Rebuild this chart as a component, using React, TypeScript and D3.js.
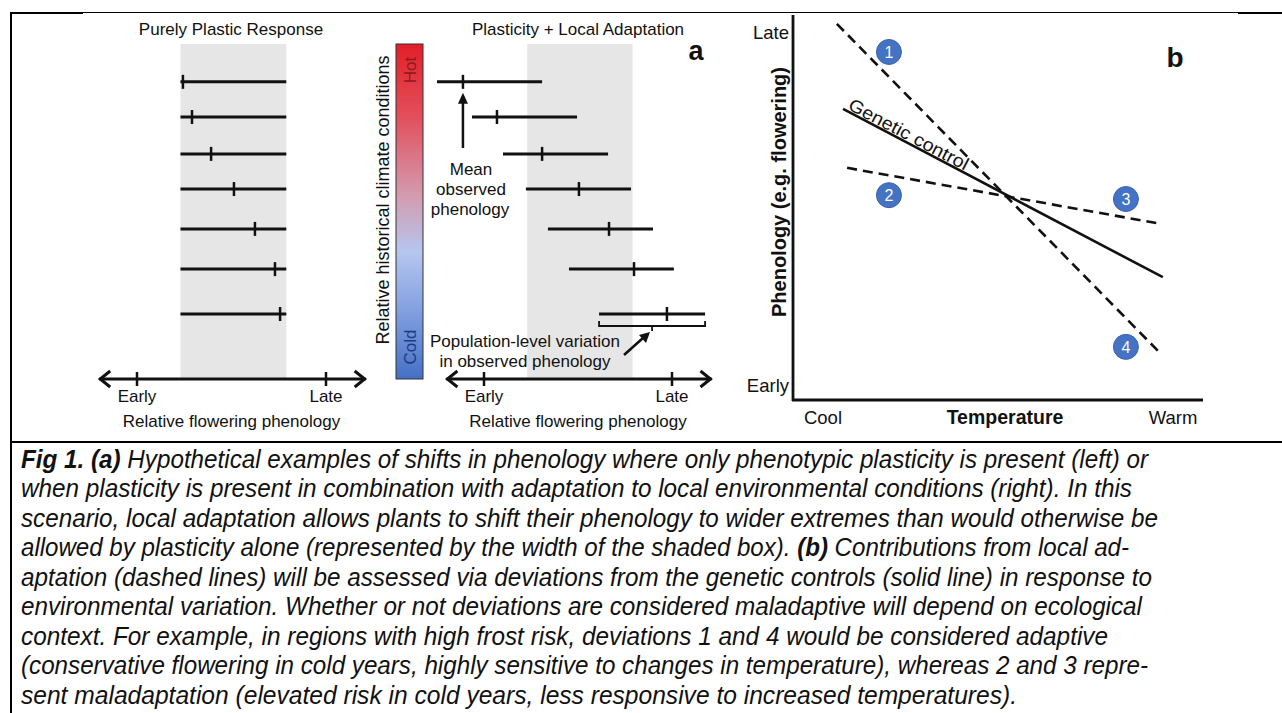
import React from 'react';
import * as d3 from 'd3';

// relative climate of each population row (1 = hot, 0 = cold)
const rowClimate = [0.887, 0.782, 0.672, 0.567, 0.448, 0.328, 0.194];
// shaded box = range allowed by plasticity (0 = early, 1 = late)
const plasticRange = [0.23, 0.79];
const plasticMeans = [0.243, 0.291, 0.392, 0.513, 0.624, 0.73, 0.757];
const localStarts = [-0.25, -0.064, 0.101, 0.223, 0.34, 0.452, 0.612];
const localEnds = [0.309, 0.495, 0.66, 0.782, 0.899, 1.01, 1.176];
const localMeans = [-0.112, 0.069, 0.309, 0.505, 0.665, 0.798, 0.973];
const axisExtent = [-0.2, 1.21];

// panel b: [temperature, phenology] endpoints
const geneticLine = [[0.122, 0.756], [0.902, 0.319]];
const deviationLines = [
  [[0.107, 0.977], [0.9, 0.117]],
  [[0.132, 0.603], [0.9, 0.457]],
];
const markerLabels = ['1', '2', '3', '4'];
const markerTemp = [0.234, 0.234, 0.812, 0.812];
const markerPheno = [0.904, 0.532, 0.522, 0.138];

const captionLines = [
  [['Fig 1. (a)', true], [' Hypothetical examples of shifts in phenology where only phenotypic plasticity is present (left) or', false]],
  [['when plasticity is present in combination with adaptation to local environmental conditions (right). In this', false]],
  [['scenario, local adaptation allows plants to shift their phenology to wider extremes than would otherwise be', false]],
  [['allowed by plasticity alone (represented by the width of the shaded box). ', false], ['(b)', true], [' Contributions from local ad-', false]],
  [['aptation (dashed lines) will be assessed via deviations from the genetic controls (solid line) in response to', false]],
  [['environmental variation. Whether or not deviations are considered maladaptive will depend on ecological', false]],
  [['context. For example, in regions with high frost risk, deviations 1 and 4 would be considered adaptive', false]],
  [['(conservative flowering in cold years, highly sensitive to changes in temperature), whereas 2 and 3 repre-', false]],
  [['sent maladaptation (elevated risk in cold years, less responsive to increased temperatures).', false]],
];
const captionEnds = [1148, 1132, 1158, 1129, 1152, 1142, 1108, 1148, 1017];

const FONT = '"Liberation Sans", Arial, sans-serif';
const INK = '#111';
const CAP_SX = 0.88; // caption font is a narrow face; squeeze horizontally

function PhenoAxis({ x, y }) {
  const x0 = x(axisExtent[0]);
  const x1 = x(axisExtent[1]);
  return (
    <g stroke={INK} strokeWidth={3} fill="none">
      <line x1={x0} x2={x1} y1={y} y2={y} />
      <path d={`M${x0 + 11},${y - 8}L${x0 + 1},${y}L${x0 + 11},${y + 8}`} />
      <path d={`M${x1 - 11},${y - 8}L${x1 - 1},${y}L${x1 - 11},${y + 8}`} />
      <line x1={x(0)} x2={x(0)} y1={y - 7} y2={y + 7} strokeWidth={2.5} />
      <line x1={x(1)} x2={x(1)} y1={y - 7} y2={y + 7} strokeWidth={2.5} />
      <g stroke="none" fill={INK} fontSize={17} textAnchor="middle">
        <text x={x(0)} y={y + 23}>Early</text>
        <text x={x(1)} y={y + 23}>Late</text>
        <text x={(x(0) + x(1)) / 2} y={y + 48}>Relative flowering phenology</text>
      </g>
    </g>
  );
}

function Bar({ x, y, start, end, mean }) {
  return (
    <g stroke={INK} strokeWidth={3}>
      <line x1={x(start)} x2={x(end)} y1={y} y2={y} />
      <line x1={x(mean)} x2={x(mean)} y1={y - 7} y2={y + 7} strokeWidth={2.5} />
    </g>
  );
}

export default function App() {
  const yRow = d3.scaleLinear().domain([0, 1]).range([379, 44]);
  const xL = d3.scaleLinear().domain([0, 1]).range([137, 326]);
  const xM = d3.scaleLinear().domain([0, 1]).range([484, 672]);
  const axisY = 379;

  const xT = d3.scaleLinear().domain([0, 1]).range([793, 1203]);
  const yP = d3.scaleLinear().domain([0, 1]).range([400, 15]);
  const line = d3.line().x(d => xT(d[0])).y(d => yP(d[1]));

  const gAngle = Math.atan2(
    yP(geneticLine[1][1]) - yP(geneticLine[0][1]),
    xT(geneticLine[1][0]) - xT(geneticLine[0][0])
  ) * 180 / Math.PI;
  const gx = xT(geneticLine[0][0]) + 3;
  const gy = yP(geneticLine[0][1]) + 3 * Math.tan(gAngle * Math.PI / 180);

  const last = rowClimate.length - 1;
  const bx0 = xM(localStarts[last]);
  const bx1 = xM(localEnds[last]);
  const bTop = yRow(rowClimate[last]) + 7;
  const bMid = (bx0 + bx1) / 2;

  const meanX = xM(localMeans[0]);
  const meanTop = yRow(rowClimate[0]) + 11;

  return (
    <svg width={1282} height={713} style={{ position: 'absolute', left: 0, top: 0, background: '#fff' }}
      fontFamily={FONT}>
      <defs>
        <linearGradient id="climate" x1="0" y1="0" x2="0" y2="1">
          <stop offset="0" stopColor="#e41f27" />
          <stop offset="0.22" stopColor="#e2505c" />
          <stop offset="0.45" stopColor="#d49aae" />
          <stop offset="0.62" stopColor="#b6c6ee" />
          <stop offset="0.8" stopColor="#819fe0" />
          <stop offset="1" stopColor="#4570c6" />
        </linearGradient>
      </defs>

      {/* frame */}
      <g stroke="#000" fill="none">
        <line x1={10} x2={1282} y1={12.5} y2={12.5} strokeWidth={1.2} />
        <line x1={10} x2={83} y1={13} y2={13} strokeWidth={2.2} />
        <line x1={1238} x2={1282} y1={13} y2={13} strokeWidth={2.2} />
        <line x1={11} x2={11} y1={12} y2={713} strokeWidth={2} />
        <line x1={10} x2={1282} y1={442} y2={442} strokeWidth={2} />
      </g>

      {/* panel a: purely plastic */}
      <rect x={xL(plasticRange[0])} y={yRow(1)} width={xL(plasticRange[1]) - xL(plasticRange[0])}
        height={axisY - yRow(1)} fill="#e6e6e6" />
      <text x={231} y={35} fontSize={17} textAnchor="middle" fill={INK}>Purely Plastic Response</text>
      {rowClimate.map((c, i) => (
        <Bar key={i} x={xL} y={yRow(c)} start={plasticRange[0]} end={plasticRange[1]} mean={plasticMeans[i]} />
      ))}
      <PhenoAxis x={xL} y={axisY} />

      {/* climate colour bar */}
      <rect x={396} y={yRow(1)} width={27} height={yRow(0) - yRow(1)} fill="url(#climate)"
        stroke="#333" strokeWidth={1} />
      <text transform={`translate(${410},${70}) rotate(-90)`} fontSize={17} textAnchor="middle"
        dy="0.35em" fill="#8e1a22">Hot</text>
      <text transform={`translate(${410},${347}) rotate(-90)`} fontSize={17} textAnchor="middle"
        dy="0.35em" fill="#1d3a82">Cold</text>
      <text transform={`translate(${383},${200}) rotate(-90)`} fontSize={18} textAnchor="middle"
        dy="0.35em" fill={INK}>Relative historical climate conditions</text>

      {/* panel a: plasticity + local adaptation */}
      <rect x={xM(plasticRange[0])} y={yRow(1)} width={xM(plasticRange[1]) - xM(plasticRange[0])}
        height={axisY - yRow(1)} fill="#e6e6e6" />
      <text x={578} y={35} fontSize={17} textAnchor="middle" fill={INK}>Plasticity + Local Adaptation</text>
      <text x={696} y={60} fontSize={27} fontWeight="bold" textAnchor="middle" fill={INK}>a</text>
      {rowClimate.map((c, i) => (
        <Bar key={i} x={xM} y={yRow(c)} start={localStarts[i]} end={localEnds[i]} mean={localMeans[i]} />
      ))}
      <PhenoAxis x={xM} y={axisY} />

      {/* mean annotation */}
      <line x1={meanX} x2={meanX} y1={148} y2={meanTop + 8} stroke={INK} strokeWidth={2.5} />
      <path d={`M${meanX},${meanTop}L${meanX - 5},${meanTop + 11}L${meanX + 5},${meanTop + 11}Z`} fill={INK} />
      <g fontSize={17} textAnchor="middle" fill={INK}>
        <text x={471} y={175}>Mean</text>
        <text x={471} y={195}>observed</text>
        <text x={470} y={215}>phenology</text>
      </g>

      {/* population-level bracket */}
      <path d={`M${bx0},${bTop}V${bTop + 5}H${bx1}V${bTop}M${bMid},${bTop + 5}V${bTop + 10}`}
        fill="none" stroke={INK} strokeWidth={1.8} />
      <line x1={624} y1={355} x2={643} y2={338} stroke={INK} strokeWidth={2.5} />
      <path d="M650,332 L639,335 L646,343 Z" fill={INK} />
      <g fontSize={17} textAnchor="middle" fill={INK}>
        <text x={525} y={347}>Population-level variation</text>
        <text x={525} y={367}>in observed phenology</text>
      </g>

      {/* panel b */}
      <g stroke={INK} strokeWidth={2.8} fill="none">
        <line x1={xT(0)} x2={xT(0)} y1={15} y2={yP(0) + 1} />
        <line x1={xT(0) - 1} x2={xT(1)} y1={yP(0)} y2={yP(0)} />
      </g>
      <path d={line(geneticLine)} stroke={INK} strokeWidth={2.6} fill="none" />
      {deviationLines.map((l, i) => (
        <path key={i} d={line(l)} stroke={INK} strokeWidth={2.6} fill="none" strokeDasharray="10 6" />
      ))}
      <text transform={`translate(${gx},${gy}) rotate(${gAngle})`} dy={-2} fontSize={18} fill={INK}
        textLength={133} lengthAdjust="spacingAndGlyphs">Genetic control</text>
      {markerLabels.map((m, i) => (
        <g key={m} transform={`translate(${xT(markerTemp[i])},${yP(markerPheno[i])})`}>
          <circle r={12.5} fill="#4472c4" stroke="#3a63ad" strokeWidth={1} />
          <text textAnchor="middle" dy="0.36em" fontSize={16} fill="#fff">{m}</text>
        </g>
      ))}
      <g fontSize={18.5} fill={INK}>
        <text x={789} y={39} textAnchor="end">Late</text>
        <text x={789} y={392} textAnchor="end">Early</text>
        <text x={823} y={424} textAnchor="middle">Cool</text>
        <text x={1005} y={424} textAnchor="middle" fontWeight="bold" fontSize={19.5}>Temperature</text>
        <text x={1173} y={424} textAnchor="middle">Warm</text>
        <text transform={`translate(${779},${192}) rotate(-90)`} textAnchor="middle" dy="0.35em"
          fontWeight="bold" fontSize={20}>Phenology (e.g. flowering)</text>
      </g>
      <text x={1175} y={67} fontSize={28} fontWeight="bold" textAnchor="middle" fill={INK}>b</text>

      {/* caption */}
      <g fontSize={25} fontStyle="italic" fill={INK} transform={`scale(${CAP_SX},1)`}>
        {captionLines.map((parts, i) => (
          <text key={i} x={21 / CAP_SX} y={468 + i * 29.5} textLength={(captionEnds[i] - 21) / CAP_SX}
            lengthAdjust="spacingAndGlyphs">
            {parts.map(([t, b], j) => (
              <tspan key={j} fontWeight={b ? 'bold' : 'normal'}>{t}</tspan>
            ))}
          </text>
        ))}
      </g>
    </svg>
  );
}
